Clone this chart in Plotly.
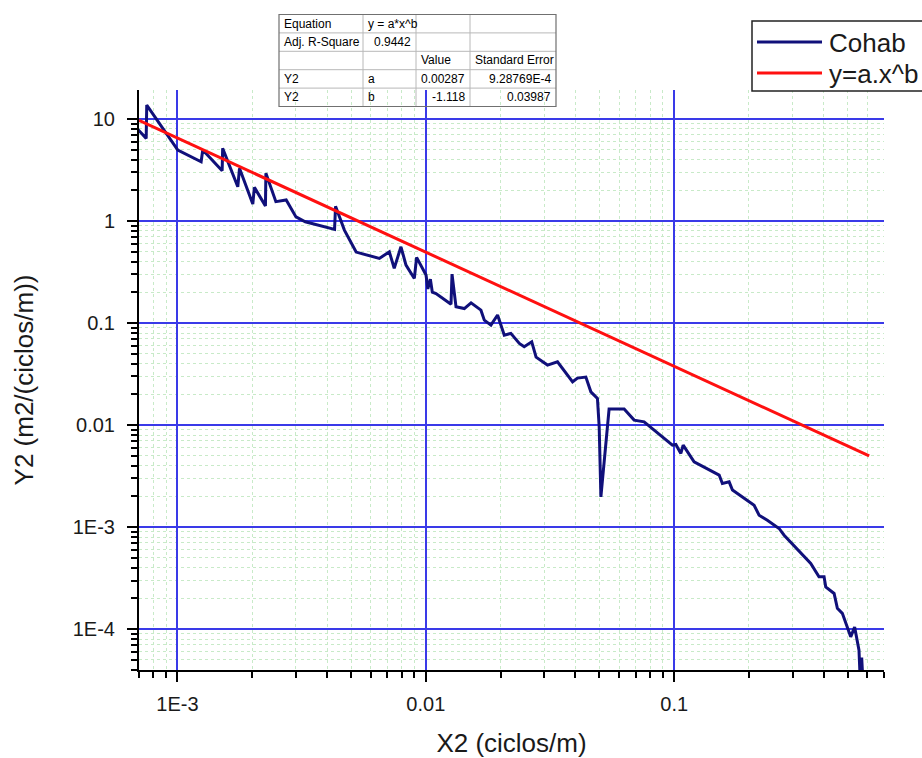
import plotly.graph_objects as go

# ---------------- data ----------------
x_cohab = [6.92e-4, 7.48e-4, 7.52e-4, 1.003e-3, 1.245e-3, 1.264e-3, 1.513e-3, 1.52e-3,
           1.749e-3, 1.777e-3, 2.01e-3, 2.04e-3, 2.26e-3, 2.27e-3, 2.49e-3, 2.74e-3,
           3.00e-3, 3.27e-3, 4.29e-3, 4.33e-3, 4.70e-3, 5.24e-3, 6.50e-3, 7.13e-3,
           7.46e-3, 7.94e-3, 8.32e-3, 8.99e-3, 9.18e-3, 0.01002, 0.01019, 0.01043,
           0.01062, 0.01099, 0.01263, 0.01275, 0.01323, 0.01429, 0.01521, 0.01667,
           0.01720, 0.01829, 0.01945, 0.0207, 0.0220, 0.0238, 0.0249, 0.0267,
           0.0278, 0.0309, 0.0339, 0.0390, 0.0408, 0.0441, 0.0462, 0.0491,
           0.0499, 0.0507, 0.0547, 0.0629, 0.0690, 0.0757, 0.0984, 0.1016,
           0.1064, 0.1087, 0.1203, 0.1518, 0.1564, 0.1665, 0.1717, 0.2099,
           0.2198, 0.2373, 0.2646, 0.2772, 0.3548, 0.3830, 0.4015, 0.4077,
           0.4406, 0.4542, 0.4756, 0.514, 0.533, 0.555, 0.562, 0.569, 0.576]
y_cohab = [7.93, 6.47, 13.7, 4.97, 3.81, 4.97, 3.11, 5.16,
           2.17, 3.29, 1.47, 2.14, 1.41, 2.94, 1.55, 1.61,
           1.10, 0.984, 0.829, 1.40, 0.816, 0.497, 0.431, 0.500,
           0.344, 0.560, 0.371, 0.274, 0.441, 0.296, 0.216, 0.270,
           0.201, 0.195, 0.153, 0.302, 0.1445, 0.139, 0.158, 0.134,
           0.107, 0.0955, 0.120, 0.0762, 0.0793, 0.0632, 0.0586, 0.0656,
           0.0464, 0.0388, 0.0418, 0.0266, 0.0289, 0.0296, 0.0212, 0.0183,
           0.00962, 0.00198, 0.01436, 0.01436, 0.0112, 0.01077, 0.00637, 0.00647,
           0.00528, 0.00637, 0.00437, 0.00324, 0.00268, 0.00278, 0.00231, 0.00164,
           0.00131, 0.00117, 9.71e-4, 8.35e-4, 4.41e-4, 3.26e-4, 3.26e-4, 2.60e-4,
           2.24e-4, 1.60e-4, 1.43e-4, 8.41e-5, 1.05e-4, 6.22e-5, 3.0e-5, 5.28e-5, 3.0e-5]

x_fit = [7.0e-4, 0.61]
y_fit = [9.7, 0.0050]

x_tickvals = [1e-3, 1e-2, 1e-1]
x_ticktext = ["1E-3", "0.01", "0.1"]
y_tickvals = [10, 1, 0.1, 0.01, 1e-3, 1e-4]
y_ticktext = ["10", "1", "0.1", "0.01", "1E-3", "1E-4"]

series_names = ["Cohab", "y=a.x^b"]

table_rows = [
    ["Equation", "y = a*x^b", "", ""],
    ["Adj. R-Square", "0.9442", "", ""],
    ["", "", "Value", "Standard Error"],
    ["Y2", "a", "0.00287", "9.28769E-4"],
    ["Y2", "b", "-1.118", "0.03987"],
]
table_align = [
    ["left", "left", "left", "left"],
    ["left", "right", "left", "left"],
    ["left", "left", "left", "left"],
    ["left", "left", "right", "right"],
    ["left", "left", "right", "right"],
]

# ---------------- layout geometry ----------------
W, H = 922, 758
ML, MR, MT, MB = 139, 38, 90, 88
PW, PH = W - ML - MR, H - MT - MB


def px(x):
    return (x - ML) / PW


def py(y):
    return (H - MB - y) / PH


def minor_vals(lo_exp, hi_exp):
    vals = []
    for e in range(lo_exp, hi_exp + 1):
        for k in range(2, 10):
            vals.append(k * 10.0 ** e)
    return vals


FONT = "Arial, Liberation Sans, Helvetica, sans-serif"
NAVY = "#10107a"
RED = "#ff1010"
GRID_BLUE = "#3a3ae8"

fig = go.Figure()
fig.add_trace(go.Scatter(x=x_cohab, y=y_cohab, mode="lines", name=series_names[0],
                         line=dict(color=NAVY, width=3)))
fig.add_trace(go.Scatter(x=x_fit, y=y_fit, mode="lines", name=series_names[1],
                         line=dict(color=RED, width=3)))

axis_common = dict(
    type="log",
    showline=True, linecolor="black", linewidth=2,
    ticks="outside", ticklen=10, tickwidth=2, tickcolor="black",
    showgrid=True, gridcolor=GRID_BLUE, gridwidth=1.8,
    zeroline=False, mirror=False, layer="below traces",
    tickfont=dict(family=FONT, size=20, color="#1a1a1a"),
    automargin=False,
)
minor_common = dict(ticks="outside", ticklen=6, tickwidth=1.5, tickcolor="black",
                    showgrid=True, gridcolor="#c8eac8", gridwidth=1, griddash="dot")

fig.update_xaxes(**axis_common, range=[-3.155, -0.155],
                 tickvals=x_tickvals, ticktext=x_ticktext,
                 ticklabelstandoff=5,
                 minor=dict(**minor_common, tickvals=minor_vals(-4, -1)),
                 title=dict(text="X2 (ciclos/m)", font=dict(family=FONT, size=26, color="#1a1a1a"),
                            standoff=21))
fig.update_yaxes(**axis_common, range=[-4.40, 1.285],
                 tickvals=y_tickvals, ticktext=y_ticktext,
                 ticklabelstandoff=8,
                 minor=dict(**minor_common, tickvals=minor_vals(-5, 1)),
                 title=dict(text="Y2 (m2/(ciclos/m))", font=dict(family=FONT, size=26, color="#1a1a1a"),
                            standoff=32))

shapes = []
annotations = []

# ---- fit results table ----
col_x = [279, 363, 416, 470, 556]
row_y = [14.5, 32.9, 51.3, 69.7, 88.1, 106.5]
for cx in col_x[1:-1]:
    shapes.append(dict(type="line", xref="paper", yref="paper",
                       x0=px(cx), x1=px(cx), y0=py(row_y[0]), y1=py(row_y[-1]),
                       line=dict(color="#b8b8b8", width=1)))
for ry in row_y[1:-1]:
    shapes.append(dict(type="line", xref="paper", yref="paper",
                       x0=px(col_x[0]), x1=px(col_x[-1]), y0=py(ry), y1=py(ry),
                       line=dict(color="#b8b8b8", width=1)))
shapes.append(dict(type="rect", xref="paper", yref="paper",
                   x0=px(col_x[0]), x1=px(col_x[-1]), y0=py(row_y[-1]), y1=py(row_y[0]),
                   line=dict(color="#707070", width=1.2), fillcolor="rgba(255,255,255,0)"))
for r, row in enumerate(table_rows):
    yc = (row_y[r] + row_y[r + 1]) / 2
    for c, txt in enumerate(row):
        if not txt:
            continue
        al = table_align[r][c]
        xx = col_x[c] + 3 if al == "left" else col_x[c + 1] - 3
        annotations.append(dict(text=txt, xref="paper", yref="paper", x=px(xx), y=py(yc),
                                xanchor=al, yanchor="middle", showarrow=False,
                                font=dict(family=FONT, size=12, color="black")))

# ---- legend box ----
shapes.append(dict(type="rect", xref="paper", yref="paper",
                   x0=px(752), x1=px(960), y0=py(91), y1=py(21),
                   line=dict(color="#222222", width=1.5), fillcolor="white", layer="above"))
legend_y = [42, 73]
legend_col = [NAVY, RED]
for name, ly, col in zip(series_names, legend_y, legend_col):
    shapes.append(dict(type="line", xref="paper", yref="paper",
                       x0=px(757), x1=px(822), y0=py(ly), y1=py(ly),
                       line=dict(color=col, width=3), layer="above"))
    annotations.append(dict(text=name, xref="paper", yref="paper", x=px(827), y=py(ly + 1),
                            xanchor="left", yanchor="middle", showarrow=False,
                            font=dict(family=FONT, size=26, color="#1a1a1a")))

fig.update_layout(
    width=W, height=H,
    margin=dict(l=ML, r=MR, t=MT, b=MB, pad=0),
    paper_bgcolor="white", plot_bgcolor="white",
    showlegend=False,
    shapes=shapes, annotations=annotations,
    font=dict(family=FONT),
)

fig.write_html("out.html", config={"displayModeBar": False},
               post_script="document.body.style.margin='0';document.body.style.overflow='hidden';")
